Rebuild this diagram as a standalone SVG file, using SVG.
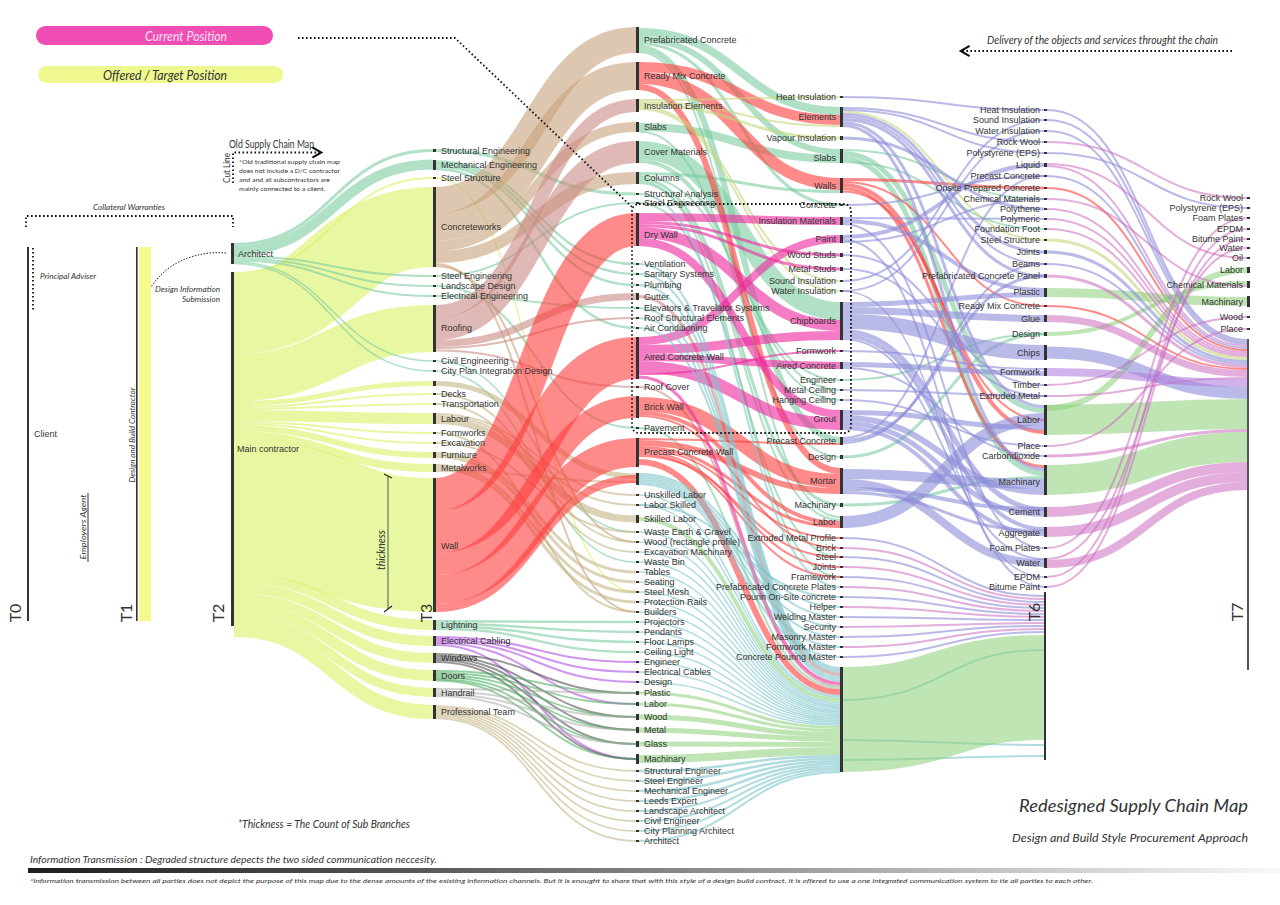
<svg xmlns="http://www.w3.org/2000/svg" width="1280" height="905" viewBox="0 0 1280 905">
<defs>
<style>
text{font-family:"Liberation Sans",Arial,sans-serif;font-size:9px;fill:#333}
.e{text-anchor:end}
.it{font-family:Lato,"Open Sans","Liberation Sans",sans-serif;font-style:italic;fill:#333}
.up{font-family:Lato,"Open Sans","Liberation Sans",sans-serif;font-style:normal;fill:#333}
.n rect{fill:#333}
.f path{fill:none}
.y{stroke:#dcf270;stroke-opacity:.65}
.g{stroke:#7ccca0;stroke-opacity:.6}
.t{stroke:#c8a27c;stroke-opacity:.6}
.m{stroke:#c98a86;stroke-opacity:.6}
.r{stroke:#ff3c3c;stroke-opacity:.6}
.p{stroke:#ee2aa0;stroke-opacity:.62}
.v{stroke:#8c8cd8;stroke-opacity:.6}
.pk{stroke:#cc6cc0;stroke-opacity:.55}
.lg{stroke:#8dcf78;stroke-opacity:.55}
.tl{stroke:#7cc4cc;stroke-opacity:.6}
.kh{stroke:#bfae7c;stroke-opacity:.55}
.yg{stroke:#c4d67a;stroke-opacity:.6}
.pu{stroke:#b050e0;stroke-opacity:.6}
.pu2{stroke:#b080dc;stroke-opacity:.6}
.k{stroke:#555;stroke-opacity:.6}
.lk{stroke:#aaa;stroke-opacity:.55}
.dg{stroke:#4caf60;stroke-opacity:.6}
.dot{fill:none;stroke:#111;stroke-width:1.8;stroke-dasharray:1.6 2.4}
.tl16{font-size:16px}
</style>
<marker id="ah" viewBox="0 0 10 10" refX="7" refY="5" markerWidth="7" markerHeight="7" orient="auto"><path d="M1,1 L8,5 L1,9" fill="none" stroke="#111" stroke-width="1.6"/></marker>
<marker id="ah2" viewBox="0 0 10 10" refX="7" refY="5" markerWidth="6" markerHeight="6" orient="auto"><path d="M1,1 L8,5 L1,9" fill="none" stroke="#333" stroke-width="1.2"/></marker>
<linearGradient id="grad" x1="0" y1="0" x2="1" y2="0"><stop offset="0" stop-color="#1e1e1e"/><stop offset="0.3" stop-color="#555"/><stop offset="1" stop-color="#f8f8f8"/></linearGradient>
</defs>
<rect width="1280" height="905" fill="#fff"/>

<g id="legend">
<rect x="36" y="26" width="237" height="19" rx="9.5" fill="#f04eb4"/>
<text class="it" x="145" y="40.5" style="font-size:13px;fill:#fbe0f0" textLength="82" lengthAdjust="spacingAndGlyphs">Current Position</text>
<rect x="38" y="66" width="245" height="17" rx="8.5" fill="#eef88e"/>
<text class="it" x="103" y="79.5" style="font-size:13px" textLength="124" lengthAdjust="spacingAndGlyphs">Offered / Target Position</text>
</g>

<g id="connectors">
<g class="f y">
<path d="M234,273C333,273 333,178 433,178" stroke-width="2"/>
<path d="M234,314C333,314 333,227 433,227" stroke-width="80"/>
<path d="M234,377.5C333,377.5 333,328.5 433,328.5" stroke-width="47"/>
<path d="M234,403.5C333,403.5 333,383.5 433,383.5" stroke-width="5"/>
<path d="M234,407C333,407 333,394 433,394" stroke-width="2"/>
<path d="M234,409C333,409 333,404 433,404" stroke-width="2"/>
<path d="M234,415.5C333,415.5 333,418.5 433,418.5" stroke-width="11"/>
<path d="M234,422C333,422 333,433 433,433" stroke-width="2"/>
<path d="M234,424C333,424 333,443 433,443" stroke-width="2"/>
<path d="M234,428C333,428 333,455 433,455" stroke-width="6"/>
<path d="M234,435C333,435 333,468 433,468" stroke-width="8"/>
<path d="M234,506C333,506 333,545 433,545" stroke-width="134"/>
<path d="M234,578C333,578 333,625 433,625" stroke-width="10"/>
<path d="M234,588C333,588 333,641 433,641" stroke-width="10"/>
<path d="M234,598C333,598 333,658 433,658" stroke-width="10"/>
<path d="M234,608.5C333,608.5 333,675.5 433,675.5" stroke-width="11"/>
<path d="M234,618.5C333,618.5 333,692.5 433,692.5" stroke-width="9"/>
<path d="M234,630C333,630 333,712 433,712" stroke-width="14"/>
<path d="M436,178C536,178 536,592 636,592" stroke-width="1.5"/>
</g>
<g class="f g">
<path d="M234,244.5C333,244.5 333,150.5 433,150.5" stroke-width="3"/>
<path d="M234,251C333,251 333,164.5 433,164.5" stroke-width="10"/>
<path d="M234,256.5C333,256.5 333,276 433,276" stroke-width="2"/>
<path d="M234,258.5C333,258.5 333,286 433,286" stroke-width="2"/>
<path d="M234,260.5C333,260.5 333,296 433,296" stroke-width="2"/>
<path d="M234,262C333,262 333,361 433,361" stroke-width="1.5"/>
<path d="M234,263.5C333,263.5 333,371 433,371" stroke-width="1.5"/>
<path d="M436,150.5C536,150.5 536,194 636,194" stroke-width="3"/>
<path d="M436,161.5C536,161.5 536,264 636,264" stroke-width="2.5"/>
<path d="M436,164C536,164 536,274 636,274" stroke-width="2.5"/>
<path d="M436,166.5C536,166.5 536,285 636,285" stroke-width="2.5"/>
<path d="M436,169C536,169 536,328 636,328" stroke-width="2.5"/>
<path d="M436,276C536,276 536,203 636,203" stroke-width="2"/>
<path d="M436,286C536,286 536,428 636,428" stroke-width="2"/>
<path d="M436,296C536,296 536,308 636,308" stroke-width="2"/>
<path d="M436,361C536,361 536,532 636,532" stroke-width="1.5"/>
<path d="M436,371C536,371 536,562 636,562" stroke-width="1.5"/>
<path d="M436,621.25C536,621.25 536,622 636,622" stroke-width="2.5"/>
<path d="M436,623.75C536,623.75 536,632 636,632" stroke-width="2.5"/>
<path d="M436,626.25C536,626.25 536,642 636,642" stroke-width="2.5"/>
<path d="M436,628.75C536,628.75 536,652 636,652" stroke-width="2.5"/>
<path d="M639,32C740,32 740,111 840,111" stroke-width="8"/>
<path d="M639,39C740,39 740,152 840,152" stroke-width="6"/>
<path d="M639,43.5C740,43.5 740,205 840,205" stroke-width="3"/>
<path d="M639,48C740,48 740,440 840,440" stroke-width="6"/>
<path d="M639,52C740,52 740,517 840,517" stroke-width="2"/>
<path d="M639,127C740,127 740,159 840,159" stroke-width="8"/>
<path d="M639,131.5C740,131.5 740,457 840,457" stroke-width="2"/>
<path d="M639,150C740,150 740,311 840,311" stroke-width="18"/>
<path d="M639,160C740,160 740,390 840,390" stroke-width="2"/>
<path d="M639,162C740,162 740,400 840,400" stroke-width="2"/>
<path d="M639,173.5C740,173.5 740,191.5 840,191.5" stroke-width="3"/>
<path d="M639,176C740,176 740,380 840,380" stroke-width="2"/>
<path d="M639,178.5C740,178.5 740,505 840,505" stroke-width="3"/>
<path d="M639,181C740,181 740,577 840,577" stroke-width="2"/>
<path d="M639,183C740,183 740,520 840,520" stroke-width="2"/>
<path d="M639,203C740,203 740,557 840,557" stroke-width="2"/>
<path d="M639,428C740,428 740,688 840,688" stroke-width="2"/>
<path d="M843,150C944,150 944,199 1044,199" stroke-width="2"/>
<path d="M843,153.5C944,153.5 944,410.5 1044,410.5" stroke-width="5"/>
<path d="M843,158.5C944,158.5 944,473.5 1044,473.5" stroke-width="5"/>
<path d="M843,162C944,162 944,229 1044,229" stroke-width="2"/>
<path d="M843,380C944,380 944,334 1044,334" stroke-width="2"/>
<path d="M843,457C944,457 944,334 1044,334" stroke-width="3"/>
<path d="M843,505C944,505 944,477.5 1044,477.5" stroke-width="3"/>
</g>
<g class="f t">
<path d="M436,200C536,200 536,40 636,40" stroke-width="26"/>
<path d="M436,227C536,227 536,76 636,76" stroke-width="28"/>
<path d="M436,246C536,246 536,127 636,127" stroke-width="10"/>
<path d="M436,257C536,257 536,178 636,178" stroke-width="12"/>
<path d="M436,264C536,264 536,612 636,612" stroke-width="2"/>
<path d="M436,266C536,266 536,542 636,542" stroke-width="2"/>
</g>
<g class="f m">
<path d="M436,311.5C536,311.5 536,105.5 636,105.5" stroke-width="13"/>
<path d="M436,329C536,329 536,152 636,152" stroke-width="22"/>
<path d="M436,343.5C536,343.5 536,296.5 636,296.5" stroke-width="7"/>
<path d="M436,348C536,348 536,318 636,318" stroke-width="2"/>
<path d="M436,350.5C536,350.5 536,387 636,387" stroke-width="2"/>
<path d="M639,296.5C740,296.5 740,674.5 840,674.5" stroke-width="3"/>
<path d="M639,387C740,387 740,686 840,686" stroke-width="2"/>
</g>
<g class="f kh">
<path d="M436,383.5C536,383.5 536,476 636,476" stroke-width="5"/>
<path d="M436,394C536,394 536,542 636,542" stroke-width="2"/>
<path d="M436,404C536,404 536,552 636,552" stroke-width="2"/>
<path d="M436,414C536,414 536,495 636,495" stroke-width="2"/>
<path d="M436,416C536,416 536,505 636,505" stroke-width="2"/>
<path d="M436,420.5C536,420.5 536,519 636,519" stroke-width="7"/>
<path d="M436,433C536,433 536,612 636,612" stroke-width="2"/>
<path d="M436,443C536,443 536,532 636,532" stroke-width="2"/>
<path d="M436,453.5C536,453.5 536,572 636,572" stroke-width="3"/>
<path d="M436,456.5C536,456.5 536,582 636,582" stroke-width="3"/>
<path d="M436,465.5C536,465.5 536,592 636,592" stroke-width="3"/>
<path d="M436,468.5C536,468.5 536,602 636,602" stroke-width="3"/>
<path d="M436,471C536,471 536,482 636,482" stroke-width="2"/>
<path d="M436,706C536,706 536,771 636,771" stroke-width="1.75"/>
<path d="M436,707.75C536,707.75 536,781 636,781" stroke-width="1.75"/>
<path d="M436,709.5C536,709.5 536,791 636,791" stroke-width="1.75"/>
<path d="M436,711.25C536,711.25 536,801 636,801" stroke-width="1.75"/>
<path d="M436,713C536,713 536,811 636,811" stroke-width="1.75"/>
<path d="M436,714.75C536,714.75 536,821 636,821" stroke-width="1.75"/>
<path d="M436,716.5C536,716.5 536,831 636,831" stroke-width="1.75"/>
<path d="M436,718.25C536,718.25 536,841 636,841" stroke-width="1.75"/>
</g>
<g class="f r">
<path d="M436,494.5C536,494.5 536,229.5 636,229.5" stroke-width="33"/>
<path d="M436,532C536,532 536,358 636,358" stroke-width="42"/>
<path d="M436,564C536,564 536,407 636,407" stroke-width="22"/>
<path d="M436,589.5C536,589.5 536,452.5 636,452.5" stroke-width="29"/>
<path d="M436,608C536,608 536,479 636,479" stroke-width="8"/>
<path d="M639,67C740,67 740,120 840,120" stroke-width="10"/>
<path d="M639,78C740,78 740,184 840,184" stroke-width="12"/>
<path d="M639,87C740,87 740,471 840,471" stroke-width="6"/>
<path d="M639,404C740,404 740,481 840,481" stroke-width="14"/>
<path d="M639,413C740,413 740,523 840,523" stroke-width="4"/>
<path d="M639,416C740,416 740,548 840,548" stroke-width="2"/>
<path d="M639,439C740,439 740,444 840,444" stroke-width="2"/>
<path d="M639,443C740,443 740,491 840,491" stroke-width="6"/>
<path d="M639,447.5C740,447.5 740,526.5 840,526.5" stroke-width="3"/>
<path d="M639,450C740,450 740,538 840,538" stroke-width="2"/>
<path d="M639,452C740,452 740,567 840,567" stroke-width="2"/>
<path d="M639,454C740,454 740,577 840,577" stroke-width="2"/>
<path d="M639,456C740,456 740,557 840,557" stroke-width="2"/>
<path d="M639,462C740,462 740,692 840,692" stroke-width="6"/>
<path d="M843,179.5C944,179.5 944,188 1044,188" stroke-width="3"/>
<path d="M843,182C944,182 944,306 1044,306" stroke-width="2"/>
<path d="M843,185C944,185 944,432 1044,432" stroke-width="4"/>
<path d="M843,188.5C944,188.5 944,466.5 1044,466.5" stroke-width="3"/>
<path d="M843,191.5C944,191.5 944,420 1044,420" stroke-width="2"/>
<path d="M1047,188C1147,188 1147,350 1247,350" stroke-width="2"/>
<path d="M1047,306C1147,306 1147,369 1247,369" stroke-width="2"/>
</g>
<g class="f pu">
<path d="M436,637C536,637 536,662 636,662" stroke-width="2"/>
<path d="M436,639C536,639 536,672 636,672" stroke-width="2"/>
<path d="M436,641C536,641 536,682 636,682" stroke-width="2"/>
<path d="M436,643C536,643 536,704 636,704" stroke-width="2"/>
<path d="M436,645C536,645 536,759 636,759" stroke-width="2"/>
</g>
<g class="f k">
<path d="M436,654C536,654 536,693 636,693" stroke-width="2"/>
<path d="M436,656C536,656 536,717 636,717" stroke-width="2"/>
<path d="M436,658C536,658 536,730 636,730" stroke-width="2"/>
<path d="M436,660C536,660 536,744 636,744" stroke-width="2"/>
<path d="M436,662C536,662 536,759 636,759" stroke-width="2"/>
</g>
<g class="f dg">
<path d="M436,671C536,671 536,693 636,693" stroke-width="1.8"/>
<path d="M436,673C536,673 536,704 636,704" stroke-width="1.8"/>
<path d="M436,675C536,675 536,717 636,717" stroke-width="1.8"/>
<path d="M436,677C536,677 536,730 636,730" stroke-width="1.8"/>
<path d="M436,679C536,679 536,744 636,744" stroke-width="1.8"/>
<path d="M436,680.5C536,680.5 536,759 636,759" stroke-width="1.8"/>
</g>
<g class="f lk">
<path d="M436,689C536,689 536,693 636,693" stroke-width="2"/>
<path d="M436,691.5C536,691.5 536,717 636,717" stroke-width="2"/>
<path d="M436,694C536,694 536,730 636,730" stroke-width="2"/>
<path d="M436,696C536,696 536,744 636,744" stroke-width="2"/>
</g>
<g class="f yg">
<path d="M639,100C740,100 740,97 840,97" stroke-width="2"/>
<path d="M639,102C740,102 740,126 840,126" stroke-width="2"/>
<path d="M639,104.5C740,104.5 740,138 840,138" stroke-width="3"/>
<path d="M639,107C740,107 740,281 840,281" stroke-width="2"/>
<path d="M639,109C740,109 740,291 840,291" stroke-width="2"/>
<path d="M843,112C944,112 944,240 1044,240" stroke-width="2"/>
<path d="M1047,240C1147,240 1147,358.5 1247,358.5" stroke-width="3"/>
</g>
<g class="f p">
<path d="M639,217C740,217 740,221 840,221" stroke-width="8"/>
<path d="M639,222.5C740,222.5 740,255 840,255" stroke-width="3"/>
<path d="M639,225.5C740,225.5 740,269 840,269" stroke-width="3"/>
<path d="M639,232.5C740,232.5 740,325.5 840,325.5" stroke-width="11"/>
<path d="M639,242C740,242 740,414 840,414" stroke-width="8"/>
<path d="M639,341C740,341 740,239 840,239" stroke-width="8"/>
<path d="M639,349.5C740,349.5 740,335.5 840,335.5" stroke-width="9"/>
<path d="M639,357.5C740,357.5 740,365.5 840,365.5" stroke-width="7"/>
<path d="M639,367C740,367 740,424 840,424" stroke-width="12"/>
<path d="M639,374C740,374 740,351 840,351" stroke-width="2"/>
<path d="M639,377C740,377 740,683.5 840,683.5" stroke-width="3"/>
</g>
<g class="f tl">
<path d="M639,194C740,194 740,587 840,587" stroke-width="2"/>
<path d="M639,264C740,264 740,668 840,668" stroke-width="2"/>
<path d="M639,274C740,274 740,670 840,670" stroke-width="2"/>
<path d="M639,285C740,285 740,672 840,672" stroke-width="2"/>
<path d="M639,308C740,308 740,677 840,677" stroke-width="2"/>
<path d="M639,318C740,318 740,679 840,679" stroke-width="2"/>
<path d="M639,328C740,328 740,681 840,681" stroke-width="2"/>
<path d="M639,474C740,474 740,607 840,607" stroke-width="2"/>
<path d="M639,476C740,476 740,617 840,617" stroke-width="2"/>
<path d="M639,478C740,478 740,627 840,627" stroke-width="2"/>
<path d="M639,480C740,480 740,637 840,637" stroke-width="2"/>
<path d="M639,482C740,482 740,647 840,647" stroke-width="2"/>
<path d="M639,484C740,484 740,657 840,657" stroke-width="2"/>
<path d="M639,505C740,505 740,597 840,597" stroke-width="2"/>
<path d="M639,495C740,495 740,695.75 840,695.75" stroke-width="1.5"/>
<path d="M639,505C740,505 740,697.25 840,697.25" stroke-width="1.5"/>
<path d="M639,532C740,532 740,702.75 840,702.75" stroke-width="1.5"/>
<path d="M639,542C740,542 740,704.25 840,704.25" stroke-width="1.5"/>
<path d="M639,552C740,552 740,705.75 840,705.75" stroke-width="1.5"/>
<path d="M639,562C740,562 740,707.25 840,707.25" stroke-width="1.5"/>
<path d="M639,572C740,572 740,708.75 840,708.75" stroke-width="1.5"/>
<path d="M639,582C740,582 740,710.25 840,710.25" stroke-width="1.5"/>
<path d="M639,592C740,592 740,711.75 840,711.75" stroke-width="1.5"/>
<path d="M639,602C740,602 740,713.25 840,713.25" stroke-width="1.5"/>
<path d="M639,612C740,612 740,714.75 840,714.75" stroke-width="1.5"/>
<path d="M639,622C740,622 740,716.25 840,716.25" stroke-width="1.5"/>
<path d="M639,632C740,632 740,717.75 840,717.75" stroke-width="1.5"/>
<path d="M639,642C740,642 740,719.25 840,719.25" stroke-width="1.5"/>
<path d="M639,652C740,652 740,720.75 840,720.75" stroke-width="1.5"/>
<path d="M639,662C740,662 740,722.25 840,722.25" stroke-width="1.5"/>
<path d="M639,672C740,672 740,723.75 840,723.75" stroke-width="1.5"/>
<path d="M639,682C740,682 740,725.25 840,725.25" stroke-width="1.5"/>
<path d="M639,771C740,771 740,756.25 840,756.25" stroke-width="2.5"/>
<path d="M639,781C740,781 740,758.75 840,758.75" stroke-width="2.5"/>
<path d="M639,791C740,791 740,761.25 840,761.25" stroke-width="2.5"/>
<path d="M639,801C740,801 740,763.75 840,763.75" stroke-width="2.5"/>
<path d="M639,811C740,811 740,766 840,766" stroke-width="2"/>
<path d="M639,821C740,821 740,768 840,768" stroke-width="2"/>
<path d="M639,831C740,831 740,770 840,770" stroke-width="2"/>
<path d="M639,841C740,841 740,772 840,772" stroke-width="2"/>
<path d="M843,700C944,700 944,650 1044,650" stroke-width="2"/>
<path d="M843,740C944,740 944,745 1044,745" stroke-width="2"/>
<path d="M843,760C944,760 944,756 1044,756" stroke-width="2"/>
</g>
<g class="f lg">
<path d="M639,519C740,519 740,700 840,700" stroke-width="4"/>
<path d="M639,693C740,693 740,727.5 840,727.5" stroke-width="3"/>
<path d="M639,704C740,704 740,730.5 840,730.5" stroke-width="3"/>
<path d="M639,717C740,717 740,734.5 840,734.5" stroke-width="5"/>
<path d="M639,730C740,730 740,739.5 840,739.5" stroke-width="5"/>
<path d="M639,744C740,744 740,744.5 840,744.5" stroke-width="5"/>
<path d="M639,759C740,759 740,751 840,751" stroke-width="8"/>
<path d="M843,719.5C944,719.5 944,687.5 1044,687.5" stroke-width="105"/>
<path d="M1047,408C1147,408 1147,270 1247,270" stroke-width="6"/>
<path d="M1047,334C1147,334 1147,283 1247,283" stroke-width="4"/>
<path d="M1047,292.5C1147,292.5 1147,301.5 1247,301.5" stroke-width="9"/>
<path d="M1047,420C1147,420 1147,414 1247,414" stroke-width="30"/>
<path d="M1047,480C1147,480 1147,447 1247,447" stroke-width="30"/>
</g>
<g class="f v">
<path d="M843,97C944,97 944,110 1044,110" stroke-width="2"/>
<path d="M843,108C944,108 944,142 1044,142" stroke-width="2"/>
<path d="M843,110C944,110 944,153 1044,153" stroke-width="2"/>
<path d="M843,114.5C944,114.5 944,252 1044,252" stroke-width="3"/>
<path d="M843,117C944,117 944,264 1044,264" stroke-width="2"/>
<path d="M843,119.5C944,119.5 944,276 1044,276" stroke-width="3"/>
<path d="M843,122.5C944,122.5 944,406.5 1044,406.5" stroke-width="3"/>
<path d="M843,125.5C944,125.5 944,469.5 1044,469.5" stroke-width="3"/>
<path d="M843,138C944,138 944,209 1044,209" stroke-width="3"/>
<path d="M843,205C944,205 944,176 1044,176" stroke-width="2"/>
<path d="M843,218C944,218 944,219 1044,219" stroke-width="2"/>
<path d="M843,221C944,221 944,290 1044,290" stroke-width="4"/>
<path d="M843,224C944,224 944,548 1044,548" stroke-width="2"/>
<path d="M843,237C944,237 944,165 1044,165" stroke-width="4"/>
<path d="M843,240C944,240 944,587 1044,587" stroke-width="2"/>
<path d="M843,242C944,242 944,199 1044,199" stroke-width="2"/>
<path d="M843,255C944,255 944,385 1044,385" stroke-width="2"/>
<path d="M843,269C944,269 944,396 1044,396" stroke-width="2"/>
<path d="M843,281C944,281 944,120 1044,120" stroke-width="2"/>
<path d="M843,291C944,291 944,131 1044,131" stroke-width="2"/>
<path d="M843,291C944,291 944,577 1044,577" stroke-width="1.5"/>
<path d="M843,304.5C944,304.5 944,294.5 1044,294.5" stroke-width="5"/>
<path d="M843,310.5C944,310.5 944,318.5 1044,318.5" stroke-width="7"/>
<path d="M843,321.5C944,321.5 944,352.5 1044,352.5" stroke-width="15"/>
<path d="M843,331.5C944,331.5 944,509.5 1044,509.5" stroke-width="5"/>
<path d="M843,336C944,336 944,529 1044,529" stroke-width="4"/>
<path d="M843,339C944,339 944,559 1044,559" stroke-width="2"/>
<path d="M843,351C944,351 944,369 1044,369" stroke-width="2"/>
<path d="M843,364.5C944,364.5 944,373.5 1044,373.5" stroke-width="5"/>
<path d="M843,368C944,368 944,456 1044,456" stroke-width="2"/>
<path d="M843,390C944,390 944,396 1044,396" stroke-width="2"/>
<path d="M843,400C944,400 944,446 1044,446" stroke-width="2"/>
<path d="M843,412.5C944,412.5 944,427.5 1044,427.5" stroke-width="5"/>
<path d="M843,418C944,418 944,492 1044,492" stroke-width="6"/>
<path d="M843,423.5C944,423.5 944,514.5 1044,514.5" stroke-width="5"/>
<path d="M843,428C944,428 944,534 1044,534" stroke-width="4"/>
<path d="M843,438C944,438 944,176 1044,176" stroke-width="2"/>
<path d="M843,440.5C944,440.5 944,276 1044,276" stroke-width="3"/>
<path d="M843,443C944,443 944,264 1044,264" stroke-width="2"/>
<path d="M843,474C944,474 944,484 1044,484" stroke-width="10"/>
<path d="M843,483C944,483 944,563 1044,563" stroke-width="8"/>
<path d="M843,489C944,489 944,509 1044,509" stroke-width="4"/>
<path d="M843,492.5C944,492.5 944,531 1044,531" stroke-width="3"/>
<path d="M843,522C944,522 944,419 1044,419" stroke-width="12"/>
<path d="M843,538C944,538 944,596 1044,596" stroke-width="2"/>
<path d="M843,557C944,557 944,602 1044,602" stroke-width="2"/>
<path d="M843,577C944,577 944,608 1044,608" stroke-width="2"/>
<path d="M843,597C944,597 944,614 1044,614" stroke-width="2"/>
<path d="M843,617C944,617 944,620 1044,620" stroke-width="2"/>
<path d="M843,637C944,637 944,626 1044,626" stroke-width="2"/>
<path d="M843,657C944,657 944,632 1044,632" stroke-width="2"/>
<path d="M1047,153C1147,153 1147,208 1247,208" stroke-width="2"/>
<path d="M1047,110C1147,110 1147,340 1247,340" stroke-width="2"/>
<path d="M1047,120C1147,120 1147,342 1247,342" stroke-width="2"/>
<path d="M1047,131C1147,131 1147,344 1247,344" stroke-width="2"/>
<path d="M1047,176C1147,176 1147,348 1247,348" stroke-width="2"/>
<path d="M1047,252C1147,252 1147,361.5 1247,361.5" stroke-width="3"/>
<path d="M1047,264C1147,264 1147,364 1247,364" stroke-width="2"/>
<path d="M1047,352.5C1147,352.5 1147,393 1247,393" stroke-width="12"/>
</g>
<g class="f pk">
<path d="M843,548C944,548 944,599 1044,599" stroke-width="2"/>
<path d="M843,567C944,567 944,605 1044,605" stroke-width="2"/>
<path d="M843,587C944,587 944,611 1044,611" stroke-width="2"/>
<path d="M843,607C944,607 944,617 1044,617" stroke-width="2"/>
<path d="M843,627C944,627 944,623 1044,623" stroke-width="2"/>
<path d="M843,647C944,647 944,629 1044,629" stroke-width="2"/>
<path d="M1047,142C1147,142 1147,198 1247,198" stroke-width="2"/>
<path d="M1047,548C1147,548 1147,218 1247,218" stroke-width="2"/>
<path d="M1047,577C1147,577 1147,229 1247,229" stroke-width="2"/>
<path d="M1047,587C1147,587 1147,239 1247,239" stroke-width="2"/>
<path d="M1047,559C1147,559 1147,248 1247,248" stroke-width="2"/>
<path d="M1047,164C1147,164 1147,258 1247,258" stroke-width="2"/>
<path d="M1047,199C1147,199 1147,286 1247,286" stroke-width="2"/>
<path d="M1047,385C1147,385 1147,317 1247,317" stroke-width="2"/>
<path d="M1047,446C1147,446 1147,329 1247,329" stroke-width="2"/>
<path d="M1047,166C1147,166 1147,346 1247,346" stroke-width="2"/>
<path d="M1047,209C1147,209 1147,352 1247,352" stroke-width="2"/>
<path d="M1047,219C1147,219 1147,354 1247,354" stroke-width="2"/>
<path d="M1047,229C1147,229 1147,356 1247,356" stroke-width="2"/>
<path d="M1047,276C1147,276 1147,366.5 1247,366.5" stroke-width="3"/>
<path d="M1047,318.5C1147,318.5 1147,373.5 1247,373.5" stroke-width="7"/>
<path d="M1047,396C1147,396 1147,378 1247,378" stroke-width="2"/>
<path d="M1047,456C1147,456 1147,430.5 1247,430.5" stroke-width="3"/>
<path d="M1047,512C1147,512 1147,467 1247,467" stroke-width="10"/>
<path d="M1047,532C1147,532 1147,477 1247,477" stroke-width="10"/>
<path d="M1047,564C1147,564 1147,486 1247,486" stroke-width="8"/>
</g>
<g class="f pu2">
<path d="M1047,372C1147,372 1147,383 1247,383" stroke-width="8"/>
</g>
</g>

<g id="annotations">
<path class="dot" d="M298,38 L455,38 L633,208"/>
<rect class="dot" x="632" y="204" width="219" height="229" rx="7"/>
<path class="dot" d="M1232,51 L962,51" marker-end="url(#ah)"/>
<text class="it" x="987" y="44" style="font-size:11px" textLength="231" lengthAdjust="spacingAndGlyphs">Delivery of the objects and services throught the chain</text>
<text class="up" x="229" y="148" style="font-size:11px" textLength="85" lengthAdjust="spacingAndGlyphs">Old Supply Chain Map</text>
<path class="dot" d="M233,183 L233,152.5 L320,152.5" marker-end="url(#ah)"/>
<text class="up" transform="translate(230,168) rotate(-90)" text-anchor="middle" style="font-size:9px" textLength="30" lengthAdjust="spacingAndGlyphs">Cut Line</text>
<text class="up" x="239" y="164" style="font-size:6.5px" textLength="101" lengthAdjust="spacingAndGlyphs">*Old traditional supply chain map</text>
<text class="up" x="239" y="173" style="font-size:6.5px" textLength="101" lengthAdjust="spacingAndGlyphs">does not include a D/C contractor</text>
<text class="up" x="239" y="182" style="font-size:6.5px" textLength="91" lengthAdjust="spacingAndGlyphs">and and all subcontractors are</text>
<text class="up" x="239" y="191" style="font-size:6.5px" textLength="86" lengthAdjust="spacingAndGlyphs">mainly connected to a client.</text>
<text class="it" x="93" y="210" style="font-size:8.5px" textLength="72" lengthAdjust="spacingAndGlyphs">Collateral Warranties</text>
<path class="dot" d="M26,227 L26,216 L233,216 L233,227"/>
<path class="dot" d="M33,248 L33,312"/>
<text class="it" x="40" y="279" style="font-size:8.5px" textLength="56" lengthAdjust="spacingAndGlyphs">Principal Adviser</text>
<path d="M226,253 C190,250 152,268 141,310" fill="none" stroke="#222" stroke-width="1" stroke-dasharray="1.5 1.5" marker-end="url(#ah2)"/>
<text class="it e" x="220" y="292" style="font-size:8.5px" textLength="65" lengthAdjust="spacingAndGlyphs">Design Information</text>
<text class="it e" x="220" y="302" style="font-size:8.5px" textLength="38" lengthAdjust="spacingAndGlyphs">Submission</text>
<text class="it" transform="translate(86,527) rotate(-90)" text-anchor="middle" style="font-size:8.5px" textLength="65" lengthAdjust="spacingAndGlyphs">Employers Agent</text>
<line x1="88" y1="493" x2="88" y2="562" stroke="#333" stroke-width="1"/>
<text class="it" transform="translate(135,435) rotate(-90)" text-anchor="middle" style="font-size:8.5px" textLength="95" lengthAdjust="spacingAndGlyphs">Design and Build Contractor</text>
<line x1="388" y1="476" x2="388" y2="609" stroke="#555" stroke-width="1"/>
<line x1="384" y1="474" x2="392" y2="478" stroke="#222" stroke-width="1.2"/>
<line x1="384" y1="612" x2="392" y2="606" stroke="#222" stroke-width="1.2"/>
<text class="it" transform="translate(385,550) rotate(-90)" text-anchor="middle" style="font-size:10.5px" textLength="40" lengthAdjust="spacingAndGlyphs">thickness</text>
<text class="up tl16" transform="translate(21,613) rotate(-90)" text-anchor="middle">T0</text>
<text class="up tl16" transform="translate(132,613) rotate(-90)" text-anchor="middle">T1</text>
<text class="up tl16" transform="translate(224,613) rotate(-90)" text-anchor="middle">T2</text>
<text class="up tl16" transform="translate(432,613) rotate(-90)" text-anchor="middle">T3</text>
<text class="up tl16" transform="translate(1040,612) rotate(-90)" text-anchor="middle">T6</text>
<text class="up tl16" transform="translate(1243,612) rotate(-90)" text-anchor="middle">T7</text>
<text class="it" x="238" y="828" style="font-size:10.5px" textLength="172" lengthAdjust="spacingAndGlyphs">*Thickness = The Count of Sub Branches</text>
<text class="it e" x="1248" y="812" style="font-size:18px" textLength="229" lengthAdjust="spacingAndGlyphs">Redesigned Supply Chain Map</text>
<text class="it e" x="1248" y="842" style="font-size:11.5px" textLength="236" lengthAdjust="spacingAndGlyphs">Design and Build Style Procurement Approach</text>
<text class="it" x="30" y="862.5" style="font-size:10px" textLength="407" lengthAdjust="spacingAndGlyphs">Information Transmission : Degraded structure depects the two sided communication neccesity.</text>
<rect x="28" y="868" width="1252" height="5" fill="url(#grad)"/>
<text class="it" x="30" y="883" style="font-size:6.5px" textLength="1063" lengthAdjust="spacingAndGlyphs">*Information transmission between all parties does not depict the purpose of this map due to the dense amounts of the existing information channels. But it is enought to share that with this style of a design build contract, it is offered to use a one integrated communication system to tie all parties to each other.</text>
</g>

<g id="nodes" class="n">
<g id="t0-client"><rect x="27" y="247" width="2" height="374"/><text x="34" y="437">Client</text></g>
<g id="t1-design-build"><rect x="139" y="247" width="12" height="374" style="fill:#f6fa8a"/><rect x="136" y="247" width="1.6" height="374"/></g>
<g id="t2-architect"><rect x="231" y="243" width="3" height="21"/><text x="238" y="256.5">Architect</text></g>
<g id="t2-main-contractor"><rect x="231" y="272" width="3" height="354"/><text x="237" y="452">Main contractor</text></g>

<g id="t3-structural-engineering"><rect x="433" y="149" width="3" height="3"/><text x="441" y="153.5">Structural Engineering</text></g>
<g id="t3-mechanical-engineering"><rect x="433" y="160" width="3" height="10"/><text x="441" y="168">Mechanical Engineering</text></g>
<g id="t3-steel-structure"><rect x="433" y="177" width="3" height="2"/><text x="441" y="181">Steel Structure</text></g>
<g id="t3-concreteworks"><rect x="433" y="187" width="3" height="80"/><text x="441" y="230">Concreteworks</text></g>
<g id="t3-steel-engineering"><rect x="433" y="275" width="3" height="2"/><text x="441" y="279">Steel Engineering</text></g>
<g id="t3-landscape-design"><rect x="433" y="285" width="3" height="2"/><text x="441" y="289">Landscape Design</text></g>
<g id="t3-electrical-engineering"><rect x="433" y="295" width="3" height="2"/><text x="441" y="299">Electrical Engineering</text></g>
<g id="t3-roofing"><rect x="433" y="305" width="3" height="47"/><text x="441" y="331">Roofing</text></g>
<g id="t3-civil-engineering"><rect x="433" y="360" width="3" height="2"/><text x="441" y="364">Civil Engineering</text></g>
<g id="t3-city-plan"><rect x="433" y="370" width="3" height="2"/><text x="441" y="374">City Plan Integration Design</text></g>
<g id="t3-unnamed"><rect x="433" y="381" width="3" height="5"/></g>
<g id="t3-decks"><rect x="433" y="393" width="3" height="2"/><text x="441" y="397">Decks</text></g>
<g id="t3-transportation"><rect x="433" y="403" width="3" height="2"/><text x="441" y="407">Transportation</text></g>
<g id="t3-labour"><rect x="433" y="413" width="3" height="11"/><text x="441" y="421.5">Labour</text></g>
<g id="t3-formworks"><rect x="433" y="432" width="3" height="2"/><text x="441" y="436">Formworks</text></g>
<g id="t3-excavation"><rect x="433" y="442" width="3" height="2"/><text x="441" y="446">Excavation</text></g>
<g id="t3-furniture"><rect x="433" y="452" width="3" height="6"/><text x="441" y="458">Furniture</text></g>
<g id="t3-metalworks"><rect x="433" y="464" width="3" height="8"/><text x="441" y="471">Metalworks</text></g>
<g id="t3-wall"><rect x="433" y="478" width="3" height="134"/><text x="441" y="549">Wall</text></g>
<g id="t3-lightning"><rect x="433" y="620" width="3" height="10"/><text x="441" y="628">Lightning</text></g>
<g id="t3-electrical-cabling"><rect x="433" y="636" width="3" height="10"/><text x="441" y="644">Electrical Cabling</text></g>
<g id="t3-windows"><rect x="433" y="653" width="3" height="10"/><text x="441" y="661">Windows</text></g>
<g id="t3-doors"><rect x="433" y="670" width="3" height="11"/><text x="441" y="678.5">Doors</text></g>
<g id="t3-handrail"><rect x="433" y="688" width="3" height="9"/><text x="441" y="695.5">Handrail</text></g>
<g id="t3-professional-team"><rect x="433" y="705" width="3" height="14"/><text x="441" y="715">Professional Team</text></g>

<g id="t4-prefabricated-concrete"><rect x="636" y="27" width="3" height="26"/><text x="644" y="43">Prefabricated Concrete</text></g>
<g id="t4-ready-mix-concrete"><rect x="636" y="62" width="3" height="28"/><text x="644" y="79">Ready Mix Concrete</text></g>
<g id="t4-insulation-elements"><rect x="636" y="99" width="3" height="13"/><text x="644" y="108.5">Insulation Elements</text></g>
<g id="t4-slabs"><rect x="636" y="122" width="3" height="10"/><text x="644" y="130">Slabs</text></g>
<g id="t4-cover-materials"><rect x="636" y="141" width="3" height="22"/><text x="644" y="155">Cover Materials</text></g>
<g id="t4-columns"><rect x="636" y="172" width="3" height="12"/><text x="644" y="181">Columns</text></g>
<g id="t4-structural-analysis"><rect x="636" y="193" width="3" height="2"/><text x="644" y="197">Structural Analysis</text></g>
<g id="t4-steel-engineering"><rect x="636" y="202" width="3" height="2"/><text x="644" y="206">Steel Engineering</text></g>
<g id="t4-dry-wall"><rect x="636" y="213" width="3" height="33"/><text x="644" y="238">Dry Wall</text></g>
<g id="t4-ventilation"><rect x="636" y="263" width="3" height="2"/><text x="644" y="267">Ventilation</text></g>
<g id="t4-sanitary-systems"><rect x="636" y="273" width="3" height="2"/><text x="644" y="277">Sanitary Systems</text></g>
<g id="t4-plumbing"><rect x="636" y="284" width="3" height="2"/><text x="644" y="288">Plumbing</text></g>
<g id="t4-gutter"><rect x="636" y="293" width="3" height="7"/><text x="644" y="299.5">Gutter</text></g>
<g id="t4-elevators"><rect x="636" y="307" width="3" height="2"/><text x="644" y="311">Elevators &amp; Travelator Systems</text></g>
<g id="t4-roof-structural-elements"><rect x="636" y="317" width="3" height="2"/><text x="644" y="321">Roof Structural Elements</text></g>
<g id="t4-air-conditioning"><rect x="636" y="327" width="3" height="2"/><text x="644" y="331">Air Conditioning</text></g>
<g id="t4-aired-concrete-wall"><rect x="636" y="337" width="3" height="42"/><text x="644" y="360">Aired Concrete Wall</text></g>
<g id="t4-roof-cover"><rect x="636" y="386" width="3" height="2"/><text x="644" y="390">Roof Cover</text></g>
<g id="t4-brick-wall"><rect x="636" y="396" width="3" height="22"/><text x="644" y="410">Brick Wall</text></g>
<g id="t4-pavement"><rect x="636" y="427" width="3" height="2"/><text x="644" y="431">Pavement</text></g>
<g id="t4-precast-concrete-wall"><rect x="636" y="438" width="3" height="29"/><text x="644" y="455">Precast Concrete Wall</text></g>
<g id="t4-unnamed"><rect x="636" y="473" width="3" height="12"/></g>
<g id="t4-unskilled-labor"><rect x="636" y="494" width="3" height="2"/><text x="644" y="498">Unskilled Labor</text></g>
<g id="t4-labor-skilled"><rect x="636" y="504" width="3" height="2"/><text x="644" y="508">Labor Skilled</text></g>
<g id="t4-skilled-labor"><rect x="636" y="515" width="3" height="8"/><text x="644" y="522">Skilled Labor</text></g>
<g id="t4-waste-earth"><rect x="636" y="531" width="3" height="2"/><text x="644" y="535">Waste Earth &amp; Gravel</text></g>
<g id="t4-wood-rectangle"><rect x="636" y="541" width="3" height="2"/><text x="644" y="545">Wood (rectangle profile)</text></g>
<g id="t4-excavation-machinary"><rect x="636" y="551" width="3" height="2"/><text x="644" y="555">Excavation Machinary</text></g>
<g id="t4-waste-bin"><rect x="636" y="561" width="3" height="2"/><text x="644" y="565">Waste Bin</text></g>
<g id="t4-tables"><rect x="636" y="571" width="3" height="2"/><text x="644" y="575">Tables</text></g>
<g id="t4-seating"><rect x="636" y="581" width="3" height="2"/><text x="644" y="585">Seating</text></g>
<g id="t4-steel-mesh"><rect x="636" y="591" width="3" height="2"/><text x="644" y="595">Steel Mesh</text></g>
<g id="t4-protection-rails"><rect x="636" y="601" width="3" height="2"/><text x="644" y="605">Protection Rails</text></g>
<g id="t4-builders"><rect x="636" y="611" width="3" height="2"/><text x="644" y="615">Builders</text></g>
<g id="t4-projectors"><rect x="636" y="621" width="3" height="2"/><text x="644" y="625">Projectors</text></g>
<g id="t4-pendants"><rect x="636" y="631" width="3" height="2"/><text x="644" y="635">Pendants</text></g>
<g id="t4-floor-lamps"><rect x="636" y="641" width="3" height="2"/><text x="644" y="645">Floor Lamps</text></g>
<g id="t4-ceiling-light"><rect x="636" y="651" width="3" height="2"/><text x="644" y="655">Ceiling Light</text></g>
<g id="t4-engineer"><rect x="636" y="661" width="3" height="2"/><text x="644" y="665">Engineer</text></g>
<g id="t4-electrical-cables"><rect x="636" y="671" width="3" height="2"/><text x="644" y="675">Electrical Cables</text></g>
<g id="t4-design"><rect x="636" y="681" width="3" height="2"/><text x="644" y="685">Design</text></g>
<g id="t4-plastic"><rect x="636" y="691" width="3" height="4"/><text x="644" y="696">Plastic</text></g>
<g id="t4-labor"><rect x="636" y="702" width="3" height="4"/><text x="644" y="707">Labor</text></g>
<g id="t4-wood"><rect x="636" y="714" width="3" height="6"/><text x="644" y="720">Wood</text></g>
<g id="t4-metal"><rect x="636" y="727" width="3" height="6"/><text x="644" y="733">Metal</text></g>
<g id="t4-glass"><rect x="636" y="741" width="3" height="6"/><text x="644" y="747">Glass</text></g>
<g id="t4-machinary"><rect x="636" y="754" width="3" height="10"/><text x="644" y="762">Machinary</text></g>
<g id="t4-structural-engineer"><rect x="636" y="770" width="3" height="2"/><text x="644" y="774">Structural Engineer</text></g>
<g id="t4-steel-engineer"><rect x="636" y="780" width="3" height="2"/><text x="644" y="784">Steel Engineer</text></g>
<g id="t4-mechanical-engineer"><rect x="636" y="790" width="3" height="2"/><text x="644" y="794">Mechanical Engineer</text></g>
<g id="t4-leeds-expert"><rect x="636" y="800" width="3" height="2"/><text x="644" y="804">Leeds Expert</text></g>
<g id="t4-landscape-architect"><rect x="636" y="810" width="3" height="2"/><text x="644" y="814">Landscape Architect</text></g>
<g id="t4-civil-engineer"><rect x="636" y="820" width="3" height="2"/><text x="644" y="824">Civil Engineer</text></g>
<g id="t4-city-planning-architect"><rect x="636" y="830" width="3" height="2"/><text x="644" y="834">City Planning Architect</text></g>
<g id="t4-architect"><rect x="636" y="840" width="3" height="2"/><text x="644" y="844">Architect</text></g>

<g id="t5-heat-insulation"><rect x="840" y="96" width="3" height="2"/><text class="e" x="836" y="100">Heat Insulation</text></g>
<g id="t5-elements"><rect x="840" y="107" width="3" height="20"/><text class="e" x="836" y="120">Elements</text></g>
<g id="t5-vapour-insulation"><rect x="840" y="136" width="3" height="4"/><text class="e" x="836" y="141">Vapour Insulation</text></g>
<g id="t5-slabs"><rect x="840" y="149" width="3" height="14"/><text class="e" x="836" y="161">Slabs</text></g>
<g id="t5-walls"><rect x="840" y="178" width="3" height="15"/><text class="e" x="836" y="188.5">Walls</text></g>
<g id="t5-concrete"><rect x="840" y="204" width="3" height="2"/><text class="e" x="836" y="208">Concrete</text></g>
<g id="t5-insulation-materials"><rect x="840" y="217" width="3" height="8"/><text class="e" x="836" y="224">Insulation Materials</text></g>
<g id="t5-paint"><rect x="840" y="235" width="3" height="8"/><text class="e" x="836" y="242">Paint</text></g>
<g id="t5-wood-studs"><rect x="840" y="253" width="3" height="4"/><text class="e" x="836" y="258">Wood Studs</text></g>
<g id="t5-metal-studs"><rect x="840" y="267" width="3" height="4"/><text class="e" x="836" y="272">Metal Studs</text></g>
<g id="t5-sound-insulation"><rect x="840" y="280" width="3" height="2"/><text class="e" x="836" y="284">Sound Insulation</text></g>
<g id="t5-water-insulation"><rect x="840" y="290" width="3" height="2"/><text class="e" x="836" y="294">Water Insulation</text></g>
<g id="t5-chipboards"><rect x="840" y="302" width="3" height="38"/><text class="e" x="836" y="324">Chipboards</text></g>
<g id="t5-formwork"><rect x="840" y="350" width="3" height="2"/><text class="e" x="836" y="354">Formwork</text></g>
<g id="t5-aired-concrete"><rect x="840" y="362" width="3" height="7"/><text class="e" x="836" y="368.5">Aired Concrete</text></g>
<g id="t5-engineer"><rect x="840" y="379" width="3" height="2"/><text class="e" x="836" y="383">Engineer</text></g>
<g id="t5-metal-ceiling"><rect x="840" y="389" width="3" height="2"/><text class="e" x="836" y="393">Metal Ceiling</text></g>
<g id="t5-hanging-ceiling"><rect x="840" y="399" width="3" height="2"/><text class="e" x="836" y="403">Hanging Ceiling</text></g>
<g id="t5-grout"><rect x="840" y="410" width="3" height="20"/><text class="e" x="836" y="422">Grout</text></g>
<g id="t5-precast-concrete"><rect x="840" y="437" width="3" height="8"/><text class="e" x="836" y="444">Precast Concrete</text></g>
<g id="t5-design"><rect x="840" y="455" width="3" height="4"/><text class="e" x="836" y="460">Design</text></g>
<g id="t5-mortar"><rect x="840" y="468" width="3" height="26"/><text class="e" x="836" y="484">Mortar</text></g>
<g id="t5-machinary"><rect x="840" y="503" width="3" height="4"/><text class="e" x="836" y="508">Machinary</text></g>
<g id="t5-labor"><rect x="840" y="516" width="3" height="12"/><text class="e" x="836" y="525">Labor</text></g>
<g id="t5-extruded-metal-profile"><rect x="840" y="537" width="3" height="2"/><text class="e" x="836" y="541">Extruded Metal Profile</text></g>
<g id="t5-brick"><rect x="840" y="547" width="3" height="2"/><text class="e" x="836" y="551">Brick</text></g>
<g id="t5-steel"><rect x="840" y="556" width="3" height="2"/><text class="e" x="836" y="560">Steel</text></g>
<g id="t5-joints"><rect x="840" y="566" width="3" height="2"/><text class="e" x="836" y="570">Joints</text></g>
<g id="t5-framework"><rect x="840" y="576" width="3" height="2"/><text class="e" x="836" y="580">Framework</text></g>
<g id="t5-prefabricated-concrete-plates"><rect x="840" y="586" width="3" height="2"/><text class="e" x="836" y="590">Prefabricated Concrete Plates</text></g>
<g id="t5-pourin-on-site-concrete"><rect x="840" y="596" width="3" height="2"/><text class="e" x="836" y="600">Pourin On-Site concrete</text></g>
<g id="t5-helper"><rect x="840" y="606" width="3" height="2"/><text class="e" x="836" y="610">Helper</text></g>
<g id="t5-welding-master"><rect x="840" y="616" width="3" height="2"/><text class="e" x="836" y="620">Welding Master</text></g>
<g id="t5-security"><rect x="840" y="626" width="3" height="2"/><text class="e" x="836" y="630">Security</text></g>
<g id="t5-masonry-master"><rect x="840" y="636" width="3" height="2"/><text class="e" x="836" y="640">Masonry Master</text></g>
<g id="t5-formwork-master"><rect x="840" y="646" width="3" height="2"/><text class="e" x="836" y="650">Formwork Master</text></g>
<g id="t5-concrete-pouring-master"><rect x="840" y="656" width="3" height="2"/><text class="e" x="836" y="660">Concrete Pouring Master</text></g>
<g id="t5-unnamed"><rect x="840" y="667" width="3" height="105"/></g>

<g id="t6-heat-insulation"><rect x="1044" y="109" width="3" height="2"/><text class="e" x="1040" y="113">Heat Insulation</text></g>
<g id="t6-sound-insulation"><rect x="1044" y="119" width="3" height="2"/><text class="e" x="1040" y="123">Sound Insulation</text></g>
<g id="t6-water-insulation"><rect x="1044" y="130" width="3" height="2"/><text class="e" x="1040" y="134">Water Insulation</text></g>
<g id="t6-rock-wool"><rect x="1044" y="141" width="3" height="2"/><text class="e" x="1040" y="145">Rock Wool</text></g>
<g id="t6-polystyrene"><rect x="1044" y="152" width="3" height="2"/><text class="e" x="1040" y="156">Polystyrene (EPS)</text></g>
<g id="t6-liquid"><rect x="1044" y="163" width="3" height="4"/><text class="e" x="1040" y="168">Liquid</text></g>
<g id="t6-precast-concrete"><rect x="1044" y="175" width="3" height="2"/><text class="e" x="1040" y="179">Precast Concrete</text></g>
<g id="t6-onsite-prepared-concrete"><rect x="1044" y="187" width="3" height="2"/><text class="e" x="1040" y="191">Onsite Prepared Concrete</text></g>
<g id="t6-chemical-materials"><rect x="1044" y="198" width="3" height="2"/><text class="e" x="1040" y="202">Chemical Materials</text></g>
<g id="t6-polythene"><rect x="1044" y="208" width="3" height="2"/><text class="e" x="1040" y="212">Polythene</text></g>
<g id="t6-polymeric"><rect x="1044" y="218" width="3" height="2"/><text class="e" x="1040" y="222">Polymeric</text></g>
<g id="t6-foundation-foot"><rect x="1044" y="228" width="3" height="2"/><text class="e" x="1040" y="232">Foundation Foot</text></g>
<g id="t6-steel-structure"><rect x="1044" y="239" width="3" height="2"/><text class="e" x="1040" y="243">Steel Structure</text></g>
<g id="t6-joints"><rect x="1044" y="250" width="3" height="4"/><text class="e" x="1040" y="255">Joints</text></g>
<g id="t6-beams"><rect x="1044" y="263" width="3" height="2"/><text class="e" x="1040" y="267">Beams</text></g>
<g id="t6-prefabricated-concrete-panel"><rect x="1044" y="274" width="3" height="4"/><text class="e" x="1040" y="279">Prefabricated Concrete Panel</text></g>
<g id="t6-plastic"><rect x="1044" y="288" width="3" height="9"/><text class="e" x="1040" y="295">Plastic</text></g>
<g id="t6-ready-mix-concrete"><rect x="1044" y="305" width="3" height="2"/><text class="e" x="1040" y="309">Ready Mix Concrete</text></g>
<g id="t6-glue"><rect x="1044" y="315" width="3" height="7"/><text class="e" x="1040" y="321.5">Glue</text></g>
<g id="t6-design"><rect x="1044" y="332" width="3" height="4"/><text class="e" x="1040" y="337">Design</text></g>
<g id="t6-chips"><rect x="1044" y="345" width="3" height="15"/><text class="e" x="1040" y="355.5">Chips</text></g>
<g id="t6-formwork"><rect x="1044" y="368" width="3" height="8"/><text class="e" x="1040" y="375">Formwork</text></g>
<g id="t6-timber"><rect x="1044" y="384" width="3" height="2"/><text class="e" x="1040" y="388">Timber</text></g>
<g id="t6-extruded-metal"><rect x="1044" y="395" width="3" height="2"/><text class="e" x="1040" y="399">Extruded Metal</text></g>
<g id="t6-labor"><rect x="1044" y="405" width="3" height="30"/><text class="e" x="1040" y="423">Labor</text></g>
<g id="t6-place"><rect x="1044" y="445" width="3" height="2"/><text class="e" x="1040" y="449">Place</text></g>
<g id="t6-carbondioxide"><rect x="1044" y="455" width="3" height="2"/><text class="e" x="1040" y="459">Carbondioxide</text></g>
<g id="t6-machinary"><rect x="1044" y="465" width="3" height="30"/><text class="e" x="1040" y="484.5">Machinary</text></g>
<g id="t6-cement"><rect x="1044" y="507" width="3" height="10"/><text class="e" x="1040" y="515">Cement</text></g>
<g id="t6-aggregate"><rect x="1044" y="527" width="3" height="10"/><text class="e" x="1040" y="535.5">Aggregate</text></g>
<g id="t6-foam-plates"><rect x="1044" y="547" width="3" height="2"/><text class="e" x="1040" y="551">Foam Plates</text></g>
<g id="t6-water"><rect x="1044" y="558" width="3" height="10"/><text class="e" x="1040" y="566">Water</text></g>
<g id="t6-epdm"><rect x="1044" y="576" width="3" height="2"/><text class="e" x="1040" y="580">EPDM</text></g>
<g id="t6-bitume-paint"><rect x="1044" y="586" width="3" height="2"/><text class="e" x="1040" y="590">Bitume Paint</text></g>
<g id="t6-unnamed"><rect x="1044" y="592" width="2" height="168"/></g>

<g id="t7-rock-wool"><rect x="1247" y="197" width="3" height="2"/><text class="e" x="1243" y="201">Rock Wool</text></g>
<g id="t7-polystyrene"><rect x="1247" y="207" width="3" height="2"/><text class="e" x="1243" y="211">Polystyrene (EPS)</text></g>
<g id="t7-foam-plates"><rect x="1247" y="217" width="3" height="2"/><text class="e" x="1243" y="221">Foam Plates</text></g>
<g id="t7-epdm"><rect x="1247" y="228" width="3" height="2"/><text class="e" x="1243" y="232">EPDM</text></g>
<g id="t7-bitume-paint"><rect x="1247" y="238" width="3" height="2"/><text class="e" x="1243" y="242">Bitume Paint</text></g>
<g id="t7-water"><rect x="1247" y="247" width="3" height="2"/><text class="e" x="1243" y="251">Water</text></g>
<g id="t7-oil"><rect x="1247" y="257" width="3" height="2"/><text class="e" x="1243" y="261">Oil</text></g>
<g id="t7-labor"><rect x="1247" y="267" width="3" height="6"/><text class="e" x="1243" y="273">Labor</text></g>
<g id="t7-chemical-materials"><rect x="1247" y="281" width="3" height="7"/><text class="e" x="1243" y="287.5">Chemical Materials</text></g>
<g id="t7-machinary"><rect x="1247" y="296" width="3" height="11"/><text class="e" x="1243" y="304.5">Machinary</text></g>
<g id="t7-wood"><rect x="1247" y="316" width="3" height="2"/><text class="e" x="1243" y="320">Wood</text></g>
<g id="t7-place"><rect x="1247" y="328" width="3" height="2"/><text class="e" x="1243" y="332">Place</text></g>
<g id="t7-unnamed"><rect x="1247" y="339" width="2" height="331" style="fill:#555"/></g>
</g>
</svg>
